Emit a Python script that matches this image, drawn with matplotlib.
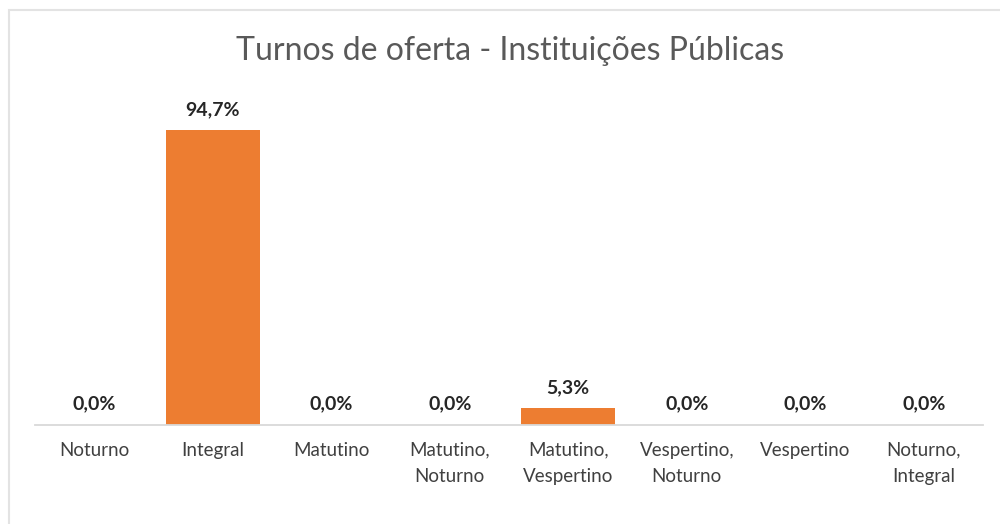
import matplotlib
matplotlib.use("Agg")
import matplotlib.pyplot as plt
from matplotlib.patches import Rectangle

categorias = ["Noturno", "Integral", "Matutino", "Matutino,\nNoturno",
              "Matutino,\nVespertino", "Vespertino,\nNoturno", "Vespertino",
              "Noturno,\nIntegral"]
percentuais = [0.0, 94.7, 0.0, 0.0, 5.3, 0.0, 0.0, 0.0]

plt.rcParams['font.family'] = ['Lato', 'DejaVu Sans']

fig = plt.figure(figsize=(10, 5.24), dpi=100)
ax = fig.add_axes([0.035, 0.189, 0.948, 0.594])

x = list(range(len(categorias)))
ax.bar(x, percentuais, width=0.79, color='#ED7D31')

# rotulos dos valores
for xi, v in zip(x, percentuais):
    txt = f"{v:.1f}%".replace('.', ',')
    ax.text(xi, v + 4.0, txt, ha='center', va='bottom', fontsize=14,
            fontweight='bold', color='#262626')

ax.set_xlim(-0.5, len(categorias) - 0.5)
ax.set_ylim(0, 100)
ax.set_xticks(x)
ax.set_xticklabels(categorias, fontsize=13.5, color='#404040', linespacing=1.65)
ax.tick_params(axis='x', length=0, pad=12)
ax.set_yticks([])
for s in ['top', 'right', 'left']:
    ax.spines[s].set_visible(False)
ax.spines['bottom'].set_color('#d9d9d9')
ax.spines['bottom'].set_linewidth(1.3)

fig.text(0.51, 0.903, "Turnos de oferta - Instituições Públicas", ha='center',
         va='center', fontsize=23, color='#595959')

# borda do grafico (cortada a direita e embaixo)
fig.patches.append(Rectangle((0.009, -0.1), 1.1, 1.081, transform=fig.transFigure,
                             fill=False, edgecolor='#e3e3e3', linewidth=1.5))

plt.savefig("out.png", dpi=100)
